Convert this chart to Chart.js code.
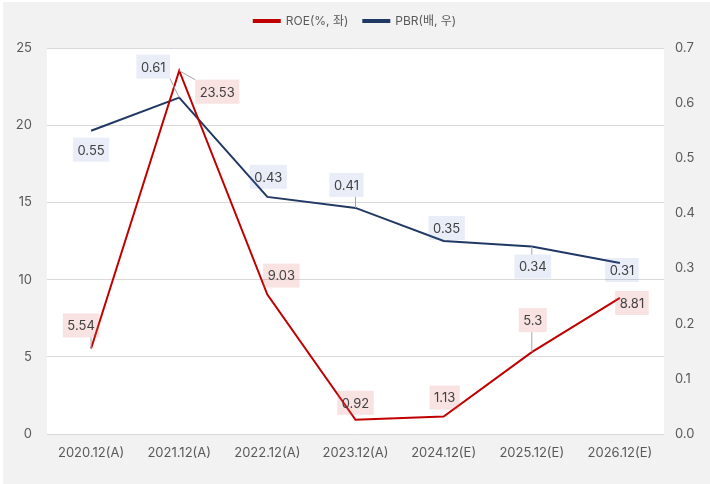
<!DOCTYPE html>
<html>
<head>
<meta charset="utf-8">
<script src="https://cdn.jsdelivr.net/npm/chart.js@4"></script>
<style>
    html, body { margin: 0; padding: 0; background: #ffffff; }
    #wrap { width: 710px; height: 484px; }
</style>
</head>
<body>
<div id="wrap"><canvas id="chart" width="710" height="484"></canvas></div>
<script>
// Chart data
const categories = ['2020.12(A)', '2021.12(A)', '2022.12(A)', '2023.12(A)', '2024.12(E)', '2025.12(E)', '2026.12(E)'];
const roeValues = [5.54, 23.53, 9.03, 0.92, 1.13, 5.3, 8.81];
const pbrValues = [0.55, 0.61, 0.43, 0.41, 0.35, 0.34, 0.31];
const leftAxisMin = 0, leftAxisMax = 25, leftAxisStep = 5;
const rightAxisMin = 0, rightAxisMax = 0.7, rightAxisStep = 0.1;

// Label placement (pixel offsets from each point)
const roeLabelOffsets = [[-10, -23], [38, 21], [14, -19], [0, -17], [1, -19], [1, -32], [12, 5]];
const pbrLabelOffsets = [[0, 19], [-26, -31], [1, -20], [-9, -23], [3, -13], [1, 20], [2, 7]];

const ROE_COLOR = '#c00000';
const PBR_COLOR = '#203864';
const TEXT_COLOR = '#595959';

Chart.defaults.font.family = "Inter, 'Noto Sans CJK KR', sans-serif";
Chart.defaults.color = TEXT_COLOR;

// Gray page, white plot area
const backgroundPlugin = {
    id: 'background',
    beforeDraw(chart) {
        const { ctx, chartArea } = chart;
        ctx.save();
        ctx.fillStyle = '#f2f2f2';
        ctx.fillRect(3, 2, chart.width - 3, chart.height - 2);
        ctx.fillStyle = '#ffffff';
        ctx.fillRect(chartArea.left, chartArea.top, chartArea.right - chartArea.left, chartArea.bottom - chartArea.top);
        ctx.restore();
    }
};

// Fixed legend height so the plot starts at the same place
const legendHeightPlugin = {
    id: 'legendHeight',
    beforeInit(chart) {
        const origFit = chart.legend.fit;
        chart.legend.fit = function () {
            origFit.call(this);
            this.height = 48;
        };
    }
};

// Boxed data labels with leader lines
const boxedLabelsPlugin = {
    id: 'boxedLabels',
    afterDatasetsDraw(chart) {
        const { ctx } = chart;
        const offsets = [roeLabelOffsets, pbrLabelOffsets];
        const fills = ['rgba(220, 110, 110, 0.2)', 'rgba(70, 110, 190, 0.12)'];
        ctx.save();
        ctx.font = "13px Inter, 'Noto Sans CJK KR', sans-serif";
        chart.data.datasets.forEach((ds, i) => {
            const meta = chart.getDatasetMeta(i);
            meta.data.forEach((pt, j) => {
                const text = String(ds.data[j]);
                const [dx, dy] = offsets[i][j];
                const cx = pt.x + dx, cy = pt.y + dy;
                const w = ctx.measureText(text).width + 9;
                const h = 24;
                const left = cx - w / 2, top = cy - h / 2;

                // leader line from box edge to point
                const nx = Math.max(left, Math.min(pt.x, left + w));
                const ny = Math.max(top, Math.min(pt.y, top + h));
                if (Math.hypot(pt.x - nx, pt.y - ny) > 8) {
                    ctx.strokeStyle = '#a6a6a6';
                    ctx.lineWidth = 1;
                    ctx.beginPath();
                    ctx.moveTo(nx, ny);
                    ctx.lineTo(pt.x, pt.y);
                    ctx.stroke();
                }

                ctx.fillStyle = fills[i];
                ctx.fillRect(left, top, w, h);
                ctx.fillStyle = '#404040';
                ctx.textAlign = 'center';
                ctx.textBaseline = 'middle';
                ctx.fillText(text, cx, cy + 1);
            });
        });
        ctx.restore();
    }
};

const ctx = document.getElementById('chart').getContext('2d');
const chart = new Chart(ctx, {
    type: 'line',
    data: {
        labels: categories,
        datasets: [
            {
                label: 'ROE(%, 좌)',
                data: roeValues,
                yAxisID: 'y',
                borderColor: ROE_COLOR,
                backgroundColor: ROE_COLOR,
                borderWidth: 2,
                pointRadius: 0,
                tension: 0
            },
            {
                label: 'PBR(배, 우)',
                data: pbrValues,
                yAxisID: 'y1',
                borderColor: PBR_COLOR,
                backgroundColor: PBR_COLOR,
                borderWidth: 2,
                pointRadius: 0,
                tension: 0
            }
        ]
    },
    options: {
        responsive: false,
        animation: false,
        layout: { padding: 0 },
        plugins: {
            legend: {
                position: 'top',
                labels: {
                    boxWidth: 26,
                    boxHeight: 2,
                    padding: 15,
                    color: TEXT_COLOR,
                    font: { size: 12 }
                }
            },
            tooltip: { enabled: false }
        },
        scales: {
            x: {
                offset: true,
                grid: { display: false, drawTicks: false },
                border: { display: false },
                ticks: { color: TEXT_COLOR, font: { size: 13 }, padding: 11, maxRotation: 0 },
                afterFit(scale) { scale.height = 50; }
            },
            y: {
                position: 'left',
                min: leftAxisMin,
                max: leftAxisMax,
                ticks: { stepSize: leftAxisStep, color: TEXT_COLOR, font: { size: 13 }, padding: 15 },
                grid: { color: '#d9d9d9', drawTicks: false },
                border: { display: false },
                afterFit(scale) { scale.width = 47; }
            },
            y1: {
                position: 'right',
                min: rightAxisMin,
                max: rightAxisMax,
                ticks: {
                    stepSize: rightAxisStep,
                    color: TEXT_COLOR,
                    font: { size: 13 },
                    padding: 11,
                    callback: (value) => value.toFixed(1)
                },
                grid: { display: false, drawTicks: false },
                border: { display: false },
                afterFit(scale) { scale.width = 46; }
            }
        }
    },
    plugins: [backgroundPlugin, legendHeightPlugin, boxedLabelsPlugin]
});
</script>
</body>
</html>
